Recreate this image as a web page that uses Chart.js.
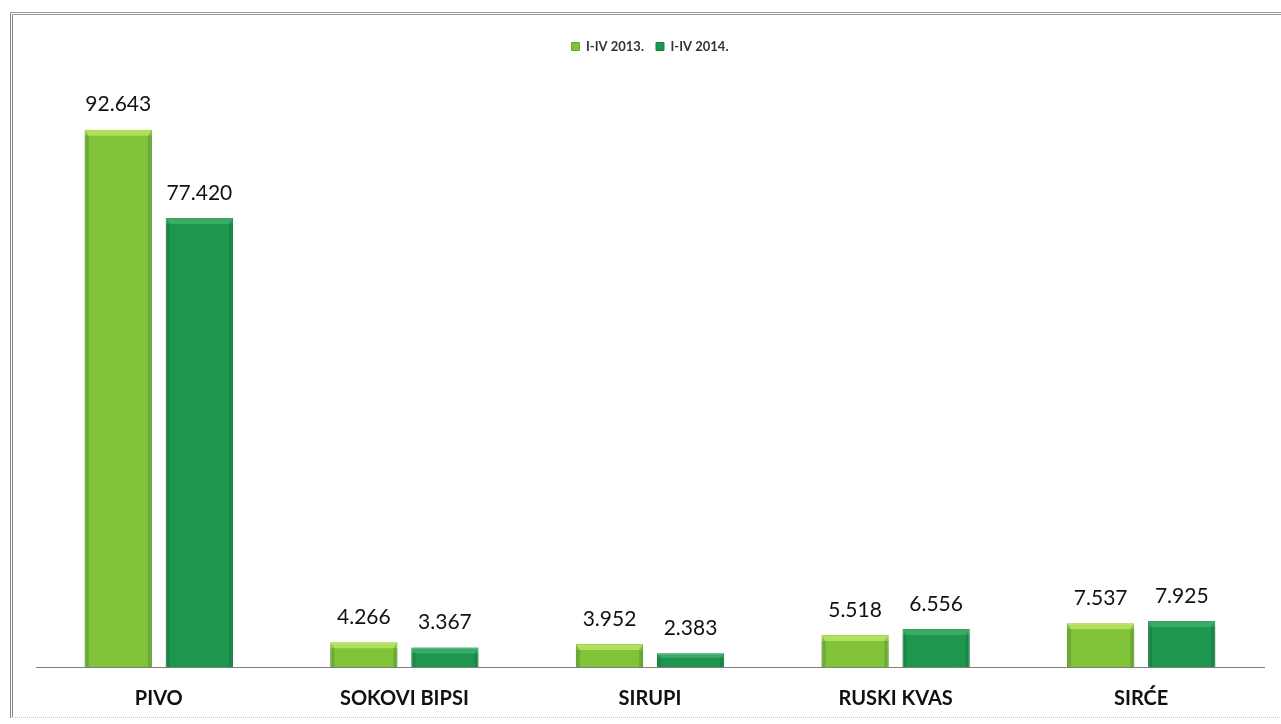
<!DOCTYPE html>
<html>
<head>
<meta charset="utf-8">
<script src="https://cdn.jsdelivr.net/npm/chart.js@4.4.1/dist/chart.umd.min.js"></script>
<style>
  html, body { margin: 0; padding: 0; background: #fff; }
  #wrap { position: relative; width: 1281px; height: 724px; overflow: hidden; }
  #frame { position: absolute; left: 10px; top: 12px; width: 1300px; height: 706px;
           border-left: 3px double #8a8a8a; border-top: 3px double #9a9a9a; border-bottom: 1px dotted #c8c8c8; box-sizing: border-box; }
  canvas { position: absolute; left: 0; top: 0; }
</style>
</head>
<body>
<div id="wrap">
  <div id="frame"></div>
  <canvas id="c" width="1281" height="731"></canvas>
</div>
<script>
const categories = ["PIVO", "SOKOVI BIPSI", "SIRUPI", "RUSKI KVAS", "SIRĆE"];
const seriesNames = ["I-IV 2013.", "I-IV 2014."];
const values2013 = [92643, 4266, 3952, 5518, 7537];
const values2014 = [77420, 3367, 2383, 6556, 7925];

const fmt = v => v.toLocaleString('de-DE');

const legendSpacer = {
  id: 'legendSpacer',
  beforeInit(chart) {
    const orig = chart.legend.fit;
    chart.legend.fit = function () {
      orig.bind(chart.legend)();
      this.height += 24;
    };
  }
};

const bevel = {
  id: 'bevel',
  afterDatasetsDraw(chart) {
    const ctx = chart.ctx;
    chart.data.datasets.forEach((ds, di) => {
      const meta = chart.getDatasetMeta(di);
      meta.data.forEach(bar => {
        const l = bar.x - bar.width / 2, r = bar.x + bar.width / 2;
        const t = bar.y, b = bar.base;
        const e = Math.min(6, (b - t) / 3);
        ctx.save();
        ctx.fillStyle = di === 0 ? 'rgba(220,245,120,0.55)' : 'rgba(90,200,130,0.45)';
        ctx.beginPath();
        ctx.moveTo(l, t); ctx.lineTo(r, t); ctx.lineTo(r - 4, t + e); ctx.lineTo(l + 4, t + e); ctx.closePath();
        ctx.fill();
        ctx.fillStyle = 'rgba(0,60,20,0.18)';
        ctx.fillRect(l, t + e, 4, b - t - e);
        ctx.fillRect(r - 4, t + e, 4, b - t - e);
        ctx.restore();
      });
    });
  }
};

const valueLabels = {
  id: 'valueLabels',
  afterDatasetsDraw(chart) {
    const ctx = chart.ctx;
    ctx.save();
    ctx.font = '21px Lato';
    ctx.fillStyle = '#111';
    ctx.textAlign = 'center';
    ctx.textBaseline = 'middle';
    chart.data.datasets.forEach((ds, di) => {
      const meta = chart.getDatasetMeta(di);
      meta.data.forEach((bar, i) => {
        ctx.fillText(fmt(ds.data[i]), bar.x, bar.y - 25);
      });
    });
    ctx.restore();
  }
};

new Chart(document.getElementById('c'), {
  type: 'bar',
  data: {
    labels: categories,
    datasets: [
      { label: seriesNames[0], data: values2013, backgroundColor: '#80c339', borderColor: '#6aab2c', borderWidth: 1,
        categoryPercentage: 0.66, barPercentage: 0.83 },
      { label: seriesNames[1], data: values2014, backgroundColor: '#1f9650', borderColor: '#178344', borderWidth: 1,
        categoryPercentage: 0.66, barPercentage: 0.83 }
    ]
  },
  options: {
    responsive: false,
    animation: false,
    layout: { padding: { left: 36, right: 17, top: 28, bottom: 0 } },
    plugins: {
      legend: {
        display: true,
        position: 'top',
        labels: {
          boxWidth: 8, boxHeight: 8, padding: 12,
          color: '#333',
          font: { family: 'Lato', size: 13, weight: 'bold' }
        }
      },
      tooltip: { enabled: false }
    },
    scales: {
      x: {
        grid: { display: false, drawTicks: false },
        border: { display: true, color: '#7f7f7f', width: 1 },
        ticks: { color: '#111', padding: 20, font: { family: 'Lato', size: 20, weight: 'bold' } }
      },
      y: {
        display: false,
        min: 0,
        max: 100000
      }
    }
  },
  plugins: [legendSpacer, bevel, valueLabels]
});
</script>
</body>
</html>
